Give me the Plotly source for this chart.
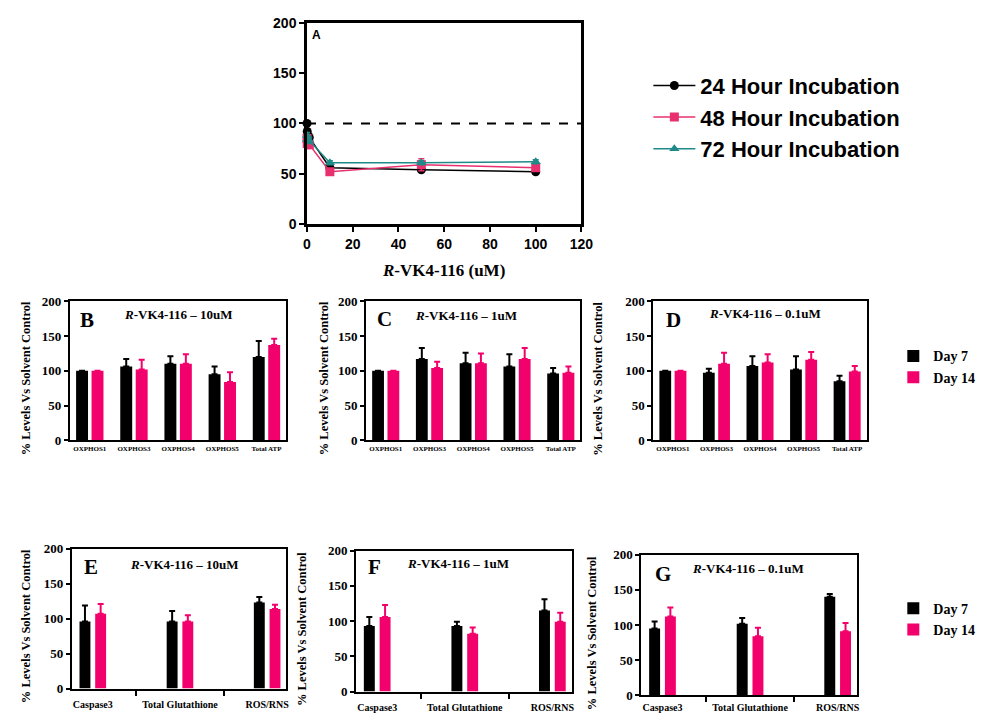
import plotly.graph_objects as go

W, H = 985, 723

# ---------------- Panel A data ----------------
conc_uM = [0.01, 0.1, 1, 10, 50, 100]
h24 = [100, 92, 86, 56, 54, 52]
h24_err = [2, 8, 4, 3, 2, 2]
h48 = [85, 80, 79, 52, 59, 56]
h48_err = [4, 5, 4, 2, 6, 3]
h72 = [88, 84, 83, 61, 61, 62]
h72_err = [3, 3, 3, 2, 2, 2]
REF_LEVEL = 100
series_names = ["24 Hour Incubation", "48 Hour Incubation", "72 Hour Incubation"]

# ---------------- Panels B-D data ----------------
oxphos_cats = ["OXPHOS1", "OXPHOS3", "OXPHOS4", "OXPHOS5", "Total ATP"]
B_d7 = [100, 106, 110, 95, 120]
B_d7_err = [0, 11, 11, 11, 23]
B_d14 = [100, 102, 110, 84, 137]
B_d14_err = [0, 14, 14, 14, 9]

C_d7 = [100, 117, 111, 106, 96]
C_d7_err = [0, 16, 15, 18, 8]
C_d14 = [100, 104, 111, 117, 97]
C_d14_err = [0, 9, 14, 16, 9]

D_d7 = [100, 97, 107, 102, 85]
D_d7_err = [0, 6, 14, 19, 8]
D_d14 = [100, 110, 112, 116, 99]
D_d14_err = [0, 16, 12, 11, 8]

# ---------------- Panels E-G data ----------------
stress_cats = ["Caspase3", "Total Glutathione", "ROS/RNS"]
E_d7 = [96, 96, 123]
E_d7_err = [23, 15, 8]
E_d14 = [107, 96, 114]
E_d14_err = [14, 9, 6]

F_d7 = [93, 93, 115]
F_d7_err = [13, 6, 16]
F_d14 = [106, 82, 99]
F_d14_err = [17, 9, 13]

G_d7 = [95, 102, 140]
G_d7_err = [10, 8, 4]
G_d14 = [112, 84, 91]
G_d14_err = [13, 12, 12]

day_names = ["Day 7", "Day 14"]

BLACK = "#000000"
PINK = "#F2006B"
PINK_LINE = "#E8306E"
TEAL = "#1F8A88"

SERIF = "Liberation Serif"
SANS = "Liberation Sans"


def px_x(p):
    return p / W


def px_y(p):
    return 1 - p / H


fig = go.Figure()

# ---------------- Panel A ----------------
for i, (vals, errs, name, col, sym) in enumerate([
    (h24, h24_err, series_names[0], BLACK, "circle"),
    (h48, h48_err, series_names[1], PINK_LINE, "square"),
    (h72, h72_err, series_names[2], TEAL, "triangle-up"),
]):
    fig.add_trace(go.Scatter(
        x=conc_uM, y=vals, name=name, mode="lines+markers",
        line=dict(color=col, width=1.5),
        marker=dict(color=col, symbol=sym, size=9),
        error_y=dict(type="data", array=errs, color=col, thickness=1.5, width=3),
        xaxis="x", yaxis="y", legend="legend", legendgroup=f"g{i}", cliponaxis=False,
    ))

fig.add_shape(type="line", xref="x", yref="y", x0=0, x1=120, y0=REF_LEVEL, y1=REF_LEVEL,
              line=dict(color="black", width=2, dash="dash"))

# ---------------- Bar panels ----------------
panels = [
    (2, oxphos_cats, B_d7, B_d7_err, B_d14, B_d14_err, None),
    (3, oxphos_cats, C_d7, C_d7_err, C_d14, C_d14_err, None),
    (4, oxphos_cats, D_d7, D_d7_err, D_d14, D_d14_err, "legend2"),
    (5, stress_cats, E_d7, E_d7_err, E_d14, E_d14_err, None),
    (6, stress_cats, F_d7, F_d7_err, F_d14, F_d14_err, None),
    (7, stress_cats, G_d7, G_d7_err, G_d14, G_d14_err, "legend3"),
]

for ax, cats, d7, d7e, d14, d14e, leg in panels:
    idx = list(range(len(cats)))
    if len(cats) == 5:
        bw, gap = 0.27, 0.08
    else:
        bw, gap = 0.125, 0.055
    for vals, errs, name, col, off in [
        (d7, d7e, day_names[0], BLACK, -bw - gap / 2),
        (d14, d14e, day_names[1], PINK, gap / 2),
    ]:
        fig.add_trace(go.Bar(
            x=idx, y=vals, name=name, width=bw, offset=off,
            marker=dict(color=col, line=dict(width=0)),
            error_y=dict(type="data", array=errs, symmetric=False,
                         arrayminus=[0] * len(errs), color=col, thickness=2, width=3),
            xaxis=f"x{ax}", yaxis=f"y{ax}",
            showlegend=leg is not None,
            legend=leg if leg else "legend",
        ))

# ---------------- Layout ----------------
layout = dict(
    width=W, height=H,
    margin=dict(l=0, r=0, t=0, b=0),
    paper_bgcolor="white", plot_bgcolor="white",
    barmode="overlay",
    showlegend=True,
)

layout["xaxis"] = dict(
    domain=[px_x(308), px_x(587)], range=[0, 120], tickvals=[0, 20, 40, 60, 80, 100, 120],
    showline=True, linecolor="black", linewidth=2.5, mirror=True,
    ticks="outside", ticklen=5, tickwidth=2, tickcolor="black",
    showgrid=False, zeroline=False,
    tickfont=dict(family=SANS, size=14, color="black", weight="bold"),
    anchor="y",
)
layout["yaxis"] = dict(
    domain=[px_y(221), px_y(15)], range=[0, 200], tickvals=[0, 50, 100, 150, 200],
    showline=True, linecolor="black", linewidth=2.5, mirror=True,
    ticks="outside", ticklen=5, tickwidth=2, tickcolor="black",
    showgrid=False, zeroline=False,
    tickfont=dict(family=SANS, size=14, color="black", weight="bold"),
    anchor="x",
)

bar_geom = {
    2: ((67, 287), (300, 442)),
    3: ((368, 586), (300, 442)),
    4: ((660, 877), (300, 442)),
    5: ((69, 287), (553, 696)),
    6: ((358, 577), (555, 699)),
    7: ((648, 867), (559, 703)),
}

for ax, cats, *_ in panels:
    (x0, x1), (y0, y1) = bar_geom[ax]
    n = len(cats)
    xa = dict(
        domain=[px_x(x0), px_x(x1)],
        tickvals=list(range(n)), ticktext=cats,
        showline=True, linecolor="black", linewidth=2, mirror=True,
        ticks="", showgrid=False, zeroline=False,
        anchor=f"y{ax}",
    )
    if n == 5:
        xa["range"] = [-0.45, n - 1 + 0.45]
        xa["tickfont"] = dict(family=SERIF, size=7, color="black", weight="bold")
    else:
        xa["range"] = [-0.24, n - 1 + 0.22]
        xa["tickfont"] = dict(family=SERIF, size=10, color="black", weight="bold")
        xa["minor"] = dict(tickvals=[i + 0.5 for i in range(n - 1)], ticks="outside",
                           ticklen=5, tickwidth=1.5, tickcolor="black")
        xa["ticklabelstandoff"] = 5 if ax < 7 else 2
    layout[f"xaxis{ax}"] = xa
    layout[f"yaxis{ax}"] = dict(
        domain=[px_y(y1), px_y(y0)], range=[0, 200], tickvals=[0, 50, 100, 150, 200],
        showline=True, linecolor="black", linewidth=2, mirror=True,
        ticks="outside", ticklen=4, tickwidth=1.5, tickcolor="black",
        showgrid=False, zeroline=False,
        tickfont=dict(family=SERIF, size=13, color="black", weight="bold"),
        anchor=f"x{ax}",
    )

layout["legend"] = dict(
    x=px_x(655), y=px_y(58), xanchor="left", yanchor="top",
    font=dict(family=SANS, size=22, color="black", weight="bold"),
    bgcolor="rgba(0,0,0,0)", itemwidth=42, tracegroupgap=0,
)
layout["legend2"] = dict(
    x=px_x(904), y=px_y(367), xanchor="left", yanchor="middle",
    font=dict(family=SERIF, size=14, color="black", weight="bold"),
    bgcolor="rgba(0,0,0,0)", itemwidth=30,
)
layout["legend3"] = dict(
    x=px_x(904), y=px_y(625), xanchor="left", yanchor="middle",
    font=dict(family=SERIF, size=14, color="black", weight="bold"),
    bgcolor="rgba(0,0,0,0)", itemwidth=30,
)

fig.update_layout(**layout)


def ann(text, x, y, font, angle=0):
    return dict(text=text, x=px_x(x), y=px_y(y), xref="paper", yref="paper",
                xanchor="center", yanchor="middle", showarrow=False,
                textangle=angle, font=font)


annotations = [
    ann("A", 318, 28, dict(family=SANS, size=12, color="black", weight="bold")),
    ann("<i>R</i>-VK4-116 (uM)", 447, 268, dict(family=SERIF, size=17, color="black", weight="bold")),
]

letters = {
    2: ("B", (84, 319), "<i>R</i>-VK4-116 – 10uM", (177, 313), 22),
    3: ("C", (387, 318), "<i>R</i>-VK4-116 – 1uM", (470, 314), 325),
    4: ("D", (681, 319), "<i>R</i>-VK4-116 – 0.1uM", (774, 312), 603),
    5: ("E", (88, 572), "<i>R</i>-VK4-116 – 10uM", (183, 569), 22),
    6: ("F", (377, 572), "<i>R</i>-VK4-116 – 1uM", (462, 568), 303),
    7: ("G", (670, 579), "<i>R</i>-VK4-116 – 0.1uM", (756, 573), 598),
}
for ax, (let, (lx, ly), title, (tx, ty), ytx) in letters.items():
    (x0, x1), (y0, y1) = bar_geom[ax]
    annotations.append(ann(let, lx, ly, dict(family=SERIF, size=21, color="black", weight="bold")))
    annotations.append(ann(title, tx, ty, dict(family=SERIF, size=13, color="black", weight="bold")))
    annotations.append(ann("% Levels Vs Solvent Control", ytx, (y0 + y1) / 2 + 8,
                           dict(family=SERIF, size=12.5, color="black", weight="bold"), angle=-90))

fig.update_layout(annotations=annotations)

fig.write_html(
    "out.html",
    config={"displayModeBar": False},
    post_script="document.body.style.margin='0';document.body.style.overflow='hidden';",
)
